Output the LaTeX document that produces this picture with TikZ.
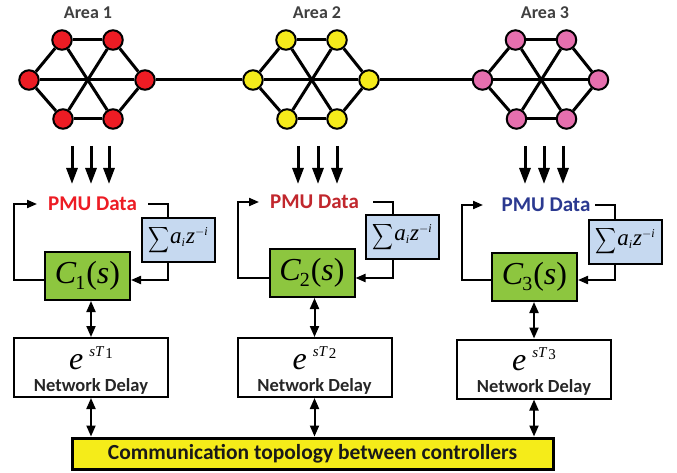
\documentclass[tikz,border=0pt]{standalone}
\usepackage{fontspec}
\setmainfont{Carlito}
\newfontfamily\tms{Liberation Serif}
\usetikzlibrary{arrows.meta}
\definecolor{nred}{HTML}{ED1C24}
\definecolor{nyel}{HTML}{F5EB1B}
\definecolor{npink}{HTML}{E66FAE}
\definecolor{pmured}{HTML}{ED1C24}
\definecolor{pmucrim}{HTML}{C1272D}
\definecolor{pmunavy}{HTML}{2B3990}
\definecolor{cgreen}{HTML}{8DC63F}
\definecolor{sblue}{HTML}{C6D9F0}
\definecolor{ybox}{HTML}{F5EC19}
\definecolor{lab}{HTML}{404040}
\newcommand\Cexpr[1]{{\tms\fontsize{32}{32}\selectfont\itshape C\kern-1pt\raisebox{-6pt}{\fontsize{20}{20}\selectfont\upshape #1}\kern1pt\upshape(\itshape s\upshape)}}
\newcommand\Sexpr{\raisebox{-1pt}{\scalebox{1.45}[1.8]{$\displaystyle\sum$}}\kern1pt{\tms\fontsize{23}{23}\selectfont\itshape a\raisebox{-3pt}{\fontsize{12}{12}\selectfont i}\kern1pt z\raisebox{8pt}{\fontsize{12}{12}\selectfont$-$\itshape i}}}
\newcommand\Dexpr[1]{{\tms\fontsize{32}{32}\selectfont\itshape e}\kern6pt\raisebox{13pt}{\tms\fontsize{15}{15}\selectfont\itshape sT\kern2pt\raisebox{-2pt}{\upshape #1}}}
\begin{document}
\begin{tikzpicture}[x=1pt,y=-1pt,
  gnode/.style={circle,draw=black,line width=2pt,minimum size=19.5pt,inner sep=0pt},
  gedge/.style={line width=3pt,black},
  arealabel/.style={inner sep=0pt,text=lab,font=\fontsize{18}{18}\selectfont\bfseries},
  pmulabel/.style={inner sep=0pt,font=\fontsize{21}{21}\selectfont\bfseries},
  downarrow/.style={line width=3pt,-{Triangle[length=16pt,width=11pt]}},
  cbox/.style={draw=black,line width=2pt,fill=cgreen,minimum width=85pt,minimum height=48pt,inner sep=0pt},
  sbox/.style={draw=black,line width=2pt,fill=sblue,minimum width=73pt,minimum height=44pt,inner sep=0pt},
  dbox/.style={draw=black,line width=2pt,fill=white,minimum width=154pt,minimum height=59pt,inner sep=0pt},
  dlabel/.style={inner sep=0pt,font=\fontsize{18.5}{18.5}\selectfont\bfseries,text=black!85},
  fb/.style={line width=2pt,-{Triangle[length=10pt,width=8pt]}},
  fbplain/.style={line width=2pt},
  bidir/.style={line width=2pt,{Triangle[length=11pt,width=9pt]}-{Triangle[length=11pt,width=9pt]}}
]
\useasboundingbox (0,0) rectangle (677,473);
% ---------- area graphs ----------
\foreach \p/\cx/\col/\lx/\lt in {a/87/nred/88/Area 1, b/311/nyel/317/Area 2, c/540.5/npink/545/Area 3}{
  \node[arealabel] (\p lab) at (\lx,13) {\lt};
  \node[gnode,fill=\col] (\p tl) at (\cx-25,40) {};
  \node[gnode,fill=\col] (\p tr) at (\cx+26,40) {};
  \node[gnode,fill=\col] (\p l) at (\cx-58,80) {};
  \node[gnode,fill=\col] (\p r) at (\cx+58,80) {};
  \node[gnode,fill=\col] (\p bl) at (\cx-24,119) {};
  \node[gnode,fill=\col] (\p br) at (\cx+26,119) {};
  \draw[gedge] (\p tl) -- (\p tr);
  \draw[gedge] (\p tr) -- (\p r);
  \draw[gedge] (\p r) -- (\p br);
  \draw[gedge] (\p br) -- (\p bl);
  \draw[gedge] (\p bl) -- (\p l);
  \draw[gedge] (\p l) -- (\p tl);
  \draw[gedge] (\p l) -- (\p r);
  \draw[gedge] (\p tl) -- (\p br);
  \draw[gedge] (\p tr) -- (\p bl);
}
\draw[gedge] (ar) -- (bl);
\draw[gedge] (br) -- (cl);
% ---------- down arrows ----------
\foreach \x [count=\i] in {72,91,109,298,318,337,525,544,563}{
  \coordinate (dn\i s) at (\x,146);
  \coordinate (dn\i e) at (\x,184);
  \draw[downarrow] (dn\i s) -- (dn\i e);
}
% ---------- PMU labels ----------
\node[pmulabel,text=pmured] (P1) at (92.5,204) {PMU Data};
\node[pmulabel,text=pmucrim] (P2) at (314.5,202) {PMU Data};
\node[pmulabel,text=pmunavy] (P3) at (546,205) {PMU Data};
% ---------- controller boxes ----------
\node[cbox] (C1) at (87.5,276) {\Cexpr{1}};
\node[cbox] (C2) at (312,273) {\Cexpr{2}};
\node[cbox] (C3) at (534.5,277) {\Cexpr{3}};
\node[sbox] (S1) at (178,240) {\Sexpr};
\node[sbox] (S2) at (402,237) {\Sexpr};
\node[sbox] (S3) at (625,241.5) {\Sexpr};
% ---------- delay boxes ----------
\node[dbox] (D1) at (91,367.5) {};
\node[dbox] (D2) at (314.5,367.5) {};
\node[dbox] (D3) at (534,369) {};
\node[inner sep=0pt] (E1) at (91,358) {\Dexpr{1}};
\node[inner sep=0pt] (E2) at (314.5,358) {\Dexpr{2}};
\node[inner sep=0pt] (E3) at (534,359.5) {\Dexpr{3}};
\node[dlabel] (N1) at (91,386) {Network Delay};
\node[dlabel] (N2) at (314.5,386) {Network Delay};
\node[dlabel] (N3) at (534,387.5) {Network Delay};
% ---------- bottom box ----------
\node[draw=black,line width=3pt,fill=ybox,minimum width=481pt,minimum height=31pt,inner sep=0pt,
      font=\fontsize{21.5}{21.5}\selectfont\bfseries,text=black!90] (Y) at (312.5,453.5) {Communication topology between controllers};
% ---------- feedback loops ----------
\foreach \k/\lx/\tx/\yy/\rs/\rc/\by in {1/14/37/204/148/168/280, 2/238/259/202/373/393/278, 3/462/483/205/595/615/280}{
  \coordinate (L\k b) at (\lx,\by);
  \coordinate (L\k t) at (\lx,\yy);
  \coordinate (L\k tip) at (\tx,\yy);
  \coordinate (R\k s) at (\rs,\yy);
  \coordinate (R\k c) at (\rc,\yy);
  \coordinate (R\k b) at (\rc,\by);
  \draw[fb] (C\k.west |- L\k b) -- (L\k b) -- (L\k t) -- (L\k tip);
  \draw[fbplain] (R\k s) -- (R\k c) -- (R\k c |- S\k.north);
  \draw[fb] (R\k c |- S\k.south) -- (R\k b) -- (C\k.east |- R\k b);
  \draw[bidir] (D\k.north |- C\k.south) -- (D\k.north);
  \draw[bidir] (D\k.south) -- (D\k.south |- Y.north);
}
\end{tikzpicture}
\end{document}
